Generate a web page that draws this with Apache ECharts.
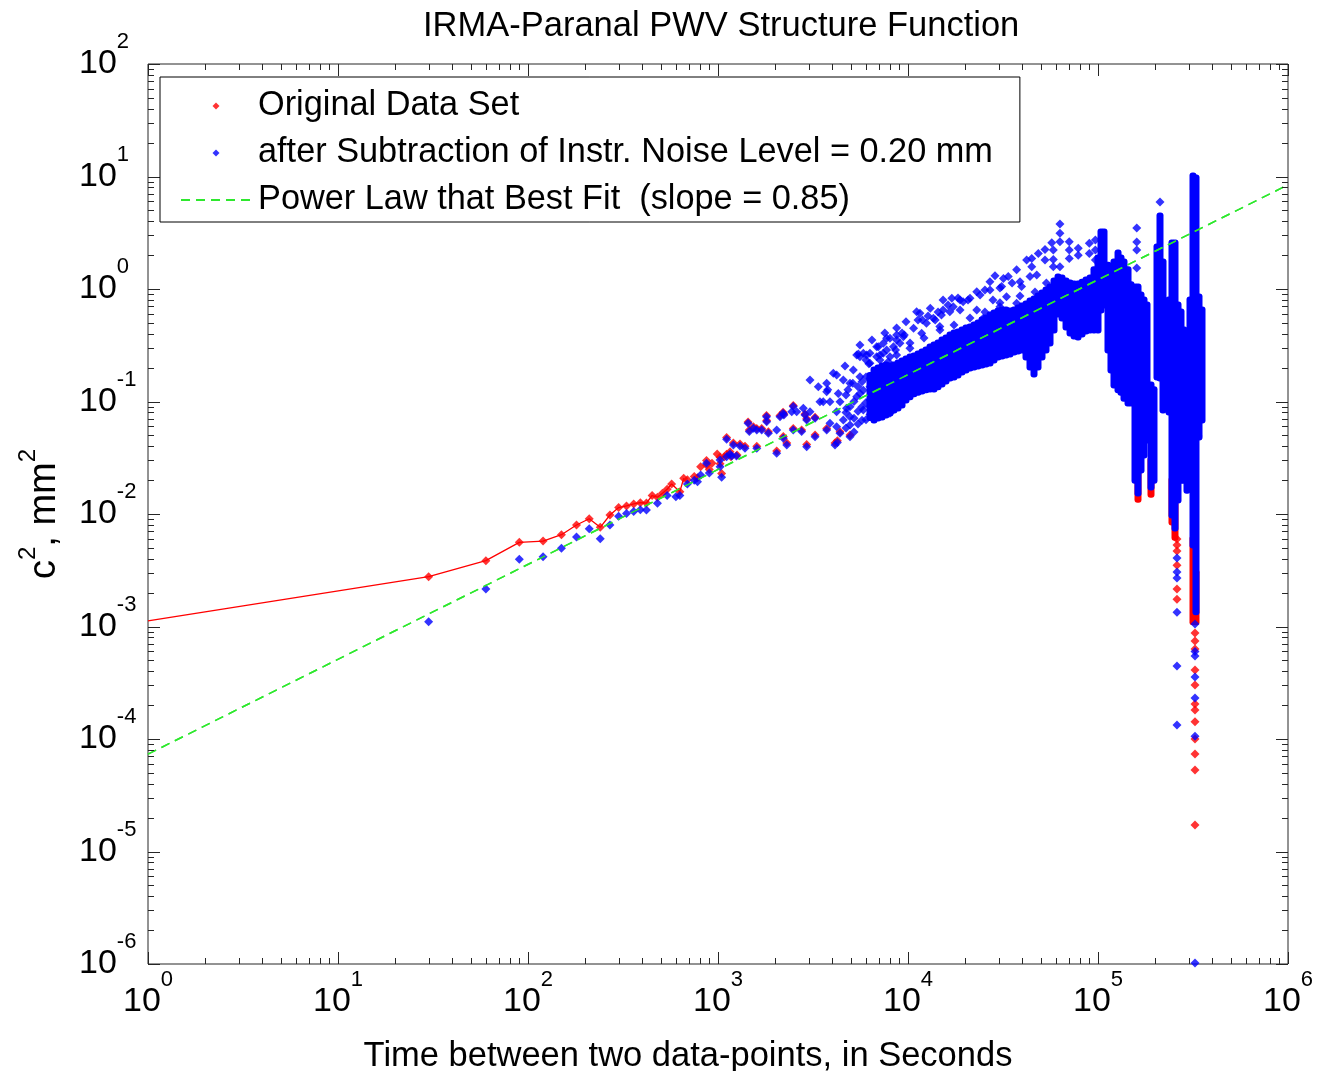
<!DOCTYPE html>
<html><head><meta charset="utf-8">
<script src="https://cdn.jsdelivr.net/npm/echarts@6/dist/echarts.min.js"></script>
<style>html,body{margin:0;padding:0;background:#fff}#c{width:1332px;height:1071px}</style>
</head><body><div id="c"></div>
<script>
// ---------------- data (lag in seconds, structure function in mm^2) ----------------
const titleText = 'IRMA-Paranal PWV Structure Function';
const nameOriginal = 'Original Data Set';
const nameCorrected = 'after Subtraction of Instr. Noise Level = 0.20 mm';
const nameFit = 'Power Law that Best Fit  (slope = 0.85)';

const xMajorTicks = [1, 10, 100, 1000, 10000, 100000, 1000000];
const yMajorTicks = [1e-6, 1e-5, 1e-4, 1e-3, 1e-2, 1e-1, 1, 10, 100];
const minorSteps = [2, 3, 4, 5, 6, 7, 8, 9];

// red: original data, start of the connecting line
const originalLineStart = [[1, 0.00112]];
const originalEarly = [[30,0.00277],[60,0.00385],[90,0.0056],[120,0.00575],[150,0.00655],[180,0.00798],[210,0.00908],[240,0.00762],[270,0.0098],[300,0.0114],[330,0.0118],[360,0.0123],[390,0.0126],[420,0.0125],[450,0.0146],[480,0.0141],[510,0.0153],[540,0.0166],[570,0.0185],[630,0.0158],[660,0.0208]];
const originalMid = [[690,0.0202],[750,0.0215],[780,0.021],[810,0.0263],[870,0.0273],[870,0.0299],[900,0.0249],[930,0.0282],[990,0.0341],[1025,0.028],[1025,0.0319],[1045,0.0229],[1080,0.0323],[1110,0.034],[1110,0.0478],[1157,0.0358],[1170,0.0323],[1205,0.0427],[1260,0.0334],[1306,0.0419],[1387,0.0401],[1440,0.0657],[1462,0.0557],[1535,0.0595],[1600,0.0401],[1600,0.0575],[1698,0.0575],[1800,0.075],[1804,0.0678],[1841,0.0538],[2037,0.0364],[2120,0.075],[2200,0.0802],[2207,0.0488],[2222,0.0776],[2300,0.0427],[2490,0.0575],[2490,0.0921],[2755,0.0557],[2870,0.0776],[2930,0.0414],[2930,0.0702],[3243,0.0503],[3243,0.0726],[3733,0.0575],[4130,0.0427],[4250,0.0448],[4385,0.0538],[4950,0.0503]];
const originalDeep = [[260400,0.006],[260400,0.0053],[260400,0.00469],[260400,0.0035],[260400,0.00215],[260400,0.00175],[324000,0.000875],[324000,0.000743],[324000,0.000631],[324000,0.00041],[324000,0.000302],[324000,0.000205],[324000,0.000181],[324000,0.000142],[324000,0.0001],[324000,0.0000736],[324000,0.000053],[324000,0.0000172]];
// red dense streaks: [lag, lowest value, highest value]
const originalStreaks = [[162380,0.0135,0.03],[190110,0.015,0.03],[245160,0.0085,0.02],[254250,0.0062,0.012],[316230,0.0011,0.006],[327930,0.0011,0.003]];

// blue: after noise subtraction
const correctedEarly = [[30,0.0011],[60,0.00215],[90,0.00396],[120,0.00417],[150,0.00496],[180,0.00625],[210,0.0074],[240,0.00603],[270,0.00798],[300,0.00955],[330,0.0101],[360,0.0105],[390,0.0109],[420,0.01085],[480,0.01245],[540,0.0146],[600,0.01425],[630,0.0146],[690,0.0185],[750,0.02],[780,0.0193],[810,0.0222],[870,0.0282],[900,0.0232],[1025,0.0263],[1025,0.0302],[1045,0.0212],[1110,0.0323],[1157,0.0341],[1180,0.0327],[1250,0.0327]];
const correctedMid = [[1110,0.0461],[1205,0.041],[1306,0.0402],[1387,0.0384],[1440,0.064],[1600,0.0384],[1600,0.0558],[1800,0.0733],[2037,0.0347],[1462,0.054],[1535,0.0578],[1698,0.0558],[1804,0.0661],[1841,0.0521],[2037,0.0558],[2200,0.0785],[2207,0.0471],[2300,0.041],[2120,0.0733],[2222,0.0759],[2444,0.0812],[2490,0.0904],[2595,0.0812],[2812,0.087],[2870,0.0759],[3049,0.0812],[3243,0.0709],[2930,0.0685],[2490,0.0558],[2755,0.054],[3243,0.0486],[2930,0.0397],[3440,0.0995],[3780,0.127],[4130,0.041],[4250,0.0431],[3049,0.155],[3373,0.135],[3733,0.145],[3733,0.122],[4045,0.178],[4215,0.172],[4296,0.118],[4385,0.0995],[3884,0.0995],[3581,0.0995],[4567,0.155],[4830,0.127],[4950,0.145],[5125,0.145],[5155,0.191],[5587,0.166],[5587,0.118],[5587,0.25],[6056,0.259],[6225,0.217],[6307,0.219],[6307,0.103],[6843,0.307],[6843,0.25],[7413,0.329],[7413,0.09],[7720,0.287],[8035,0.365],[8035,0.15],[8715,0.39],[7119,0.234],[7870,0.226],[8715,0.259],[9070,0.166],[9560,0.39],[10700,0.172],[4750,0.087],[4210,0.0812],[4567,0.0685],[4210,0.0597],[4950,0.0733],[4950,0.0486],[4385,0.0521],[3733,0.0558],[3884,0.064],[5820,0.084],[5370,0.11],[5820,0.126],[6307,0.135],[6843,0.11],[7413,0.103],[8035,0.0785],[7119,0.0785],[6307,0.09],[8715,0.11],[9070,0.155],[9460,0.191],[8380,0.178],[7413,0.135],[4660,0.207],[5480,0.264],[4718,0.114],[4718,0.08],[4718,0.0581],[4950,0.09],[4950,0.0618],[5196,0.1],[5196,0.071],[5196,0.0536],[5455,0.135],[5455,0.0818],[5455,0.063],[5727,0.09],[5727,0.0681],[5727,0.15],[6010,0.165],[6010,0.0981],[6010,0.0688],[6310,0.0766],[6310,0.16]];
const correctedUpper = [[63070,3.78],[63070,3.13],[63070,2.63],[57100,2.58],[58200,2.22],[52600,2.25],[70600,2.63],[70600,2.22],[70600,1.87],[78700,2.3],[78700,2.0],[90000,2.55],[90000,2.07],[48500,2.07],[44800,1.87],[42100,1.81],[58200,1.83],[52600,1.81],[63070,1.58],[58200,1.58],[44800,1.58],[37300,1.48],[33700,1.29],[31800,1.24],[28700,1.31],[27000,1.16],[31100,1.05],[25400,0.98],[23000,0.946],[21200,0.826],[19500,0.771],[17000,0.826],[15300,0.798],[17300,0.697],[18800,0.65],[16600,0.628],[15000,0.587],[13100,0.673],[11560,0.608],[13900,0.53],[12500,0.496],[14700,0.463],[10700,0.448],[11800,0.404],[9450,0.377],[8715,0.352],[7720,0.365],[6980,0.307],[8380,0.307],[7410,0.268],[6307,0.268],[5820,0.268],[5370,0.259],[8035,0.25],[9070,0.329],[10240,0.297],[11100,0.25],[23000,0.65],[24900,0.55],[33000,0.855],[37300,0.746],[38850,1.16],[43850,1.29],[47600,1.33],[11900,0.53],[13600,0.55],[11100,0.628],[15300,0.65],[12500,0.211],[14000,0.234],[15900,0.287],[18800,0.798],[28000,0.798],[30480,0.697],[39600,1.05],[47600,0.798],[53500,1.13],
  [5587,0.318],[6460,0.352],[7550,0.406],[8715,0.45],[9760,0.511],[11290,0.53],[12750,0.575],[14390,0.625],[16250,0.721],[18330,0.832],[20700,0.798],[23950,0.884],[27020,0.98],[30480,1.02],[35300,1.13],[6010,0.234],[7120,0.259],[8600,0.287],[10245,0.331],[12140,0.367],[14730,0.432],[17460,0.479],[21200,0.552],[25400,0.625],[30480,0.754],[38850,0.867],[46600,0.94],[9300,0.406]];
const correctedSpikeDots = [[159900,3.48],[159900,2.62],[159900,2.22],[159900,1.54],[211970,5.93],[96900,2.73],[96900,2.22],[96900,1.81],[336000,0.0494],[260400,0.00407],[260400,0.00305],[260400,0.0027],[260400,0.00134],[260400,0.000446],[260400,0.000133],[324000,0.00105],[324000,0.0006],[324000,0.000547],[324000,0.000356],[324000,0.000231],[324000,0.000106],[324000,0.00000102]];
// blue dense band / streaks: [lag, lowest value, highest value]
const correctedStreaks = [[6310,0.072,0.17],[6625,0.0685,0.191],[6953,0.0713,0.199],[7300,0.0728,0.207],[7661,0.0759,0.211],[8043,0.079,0.207],[8441,0.084,0.211],[8860,0.0876,0.22],[9299,0.0931,0.229],[9761,0.103,0.239],[10245,0.11,0.249],[10755,0.117,0.254],[11287,0.121,0.264],[11850,0.124,0.275],[12437,0.127,0.287],[13056,0.129,0.305],[13703,0.129,0.318],[14385,0.135,0.331],[15098,0.143,0.352],[15849,0.152,0.367],[16637,0.162,0.39],[17462,0.165,0.406],[18331,0.172,0.415],[19240,0.183,0.432],[20199,0.191,0.45],[21200,0.199,0.46],[22255,0.203,0.479],[23359,0.207,0.499],[24522,0.211,0.53],[25738,0.215,0.552],[27020,0.22,0.587],[28360,0.234,0.612],[29772,0.249,0.638],[31249,0.254,0.651],[32805,0.259,0.651],[34432,0.264,0.638],[36146,0.275,0.651],[37937,0.281,0.678],[39811,0.287,0.706],[41793,0.249,0.736],[43865,0.203,0.782],[46048,0.176,0.815],[48329,0.203,0.867],[50736,0.249,0.921],[53251,0.287,0.98],[55902,0.331,1.04],[58677,0.432,1.18],[61603,0.6,1.28],[64656,0.552,1.25],[67877,0.46,1.18],[71245,0.406,1.13],[74795,0.382,1.11],[78506,0.374,1.11],[82415,0.398,1.15],[86497,0.423,1.2],[90803,0.432,1.25],[95262,0.432,1.48],[100000,0.432,1.89],[103700,0.651,3.21],[107550,0.721,3.21],[112870,0.287,1.63],[117040,0.191,1.54],[121400,0.14,1.74],[127480,0.127,2.09],[132170,0.121,1.89],[137070,0.107,1.74],[143880,0.097,1.48],[149170,0.097,1.09],[156580,0.02,1.04],[162380,0.0154,1.04],[168380,0.0246,0.884],[174620,0.0334,0.798],[181090,0.0455,0.721],[190110,0.0174,0.14],[197110,0.02,0.127],[204420,0.165,2.36],[211970,0.162,4.46],[219830,0.084,1.74],[227970,0.097,0.612],[236420,0.0807,0.798],[245160,0.0098,2.56],[254250,0.0075,2.56],[263670,0.0133,0.721],[273410,0.02,0.625],[283530,0.02,0.432],[294030,0.0163,0.191],[304930,0.0246,0.798],[316230,0.0053,10.1],[327930,0.00135,9.7],[340070,0.0483,0.849],[352680,0.0685,0.651]];

// best-fit power law, end points at the plot edges
const fitLine = [[1, 0.0000733], [1000000, 8.43]];

// ---------------- styling ----------------
const FONT = '"Liberation Sans", Arial, Helvetica, sans-serif';
const AXIS_COLOR = '#262626';
const RED = '#ff0000', BLUE = '#0000ff', GREEN = '#2ee82e';
const X_MIN = 1, X_MAX = 1e6, Y_MIN = 1e-6, Y_MAX = 100;
const DIAMOND = 'path://M5,0L10,5L5,10L0,5Z';

function tickList(majors) {
  const out = [];
  majors.forEach((m, i) => {
    out.push(m);
    if (i < majors.length - 1) minorSteps.forEach(s => out.push(m * s));
  });
  return out;
}
const xTicksAll = tickList(xMajorTicks);
const yTicksAll = tickList(yMajorTicks);
function isMajor(v) { const l = Math.log10(v); return Math.abs(l - Math.round(l)) < 1e-9; }

function powLabel(v) {
  const e = Math.round(Math.log10(v));
  return '{b|10}{e|' + e + '}';
}
const labelRich = {
  b: { fontSize: 34, fontFamily: FONT, color: '#000', lineHeight: 66, padding: [16, 0, 16, 0] },
  e: { fontSize: 22, fontFamily: FONT, color: '#000', lineHeight: 22, verticalAlign: 'top' }
};

function streakItem(color) {
  return function (params, api) {
    const x = api.value(0), lo = api.value(1), hi = api.value(2);
    const a = api.coord([x, hi]);
    const b = api.coord([x, lo]);
    return {
      type: 'rect',
      shape: { x: a[0] - 3.5, y: a[1] - 3.5, width: 7, height: b[1] - a[1] + 7, r: 3 },
      style: { fill: color }
    };
  };
}

function renderXTick(params, api) {
  const v = api.value(0);
  const len = isMajor(v) ? 12 : 6;
  const pb = api.coord([v, Y_MIN]);
  const pt = api.coord([v, Y_MAX]);
  const x = Math.round(pb[0]) + 0.5;
  return { type: 'group', children: [
    { type: 'line', shape: { x1: x, y1: pb[1], x2: x, y2: pb[1] - len }, style: { stroke: AXIS_COLOR, lineWidth: 1 } },
    { type: 'line', shape: { x1: x, y1: pt[1], x2: x, y2: pt[1] + len }, style: { stroke: AXIS_COLOR, lineWidth: 1 } }
  ]};
}
function renderYTick(params, api) {
  const v = api.value(1);
  const len = isMajor(v) ? 12 : 6;
  const pl = api.coord([X_MIN, v]);
  const pr = api.coord([X_MAX, v]);
  const y = Math.round(pl[1]) + 0.5;
  return { type: 'group', children: [
    { type: 'line', shape: { x1: pl[0], y1: y, x2: pl[0] + len, y2: y }, style: { stroke: AXIS_COLOR, lineWidth: 1 } },
    { type: 'line', shape: { x1: pr[0], y1: y, x2: pr[0] - len, y2: y }, style: { stroke: AXIS_COLOR, lineWidth: 1 } }
  ]};
}

const chart = echarts.init(document.getElementById('c'), null, { renderer: 'canvas' });
chart.setOption({
  animation: false,
  backgroundColor: '#fff',
  title: {
    text: titleText, left: 418, top: 4,
    textStyle: { fontSize: 34.5, fontWeight: 'normal', fontFamily: FONT, color: '#000' }
  },
  legend: {
    data: [
      { name: nameOriginal, icon: DIAMOND },
      { name: nameCorrected, icon: DIAMOND },
      { name: nameFit, itemStyle: { opacity: 0, color: 'rgba(0,0,0,0)', borderWidth: 0 } }
    ],
    orient: 'vertical', left: 160, top: 77,
    padding: [12, 27, 5, 20], itemGap: 13, itemWidth: 70, itemHeight: 7, symbolKeepAspect: true,
    backgroundColor: '#fff', borderColor: '#000', borderWidth: 1,
    textStyle: { fontSize: 34.3, fontFamily: FONT, color: '#000', lineHeight: 34, padding: [0, 0, 0, 2] },
    selectedMode: false, z: 20
  },
  grid: { left: 148, right: 44, top: 64, bottom: 107, containLabel: false, outerBoundsMode: 'none',
    show: true, borderColor: AXIS_COLOR, borderWidth: 1, backgroundColor: '#fff' },
  xAxis: {
    type: 'log', logBase: 10, min: X_MIN, max: X_MAX, splitNumber: 6,
    name: 'Time between two data-points, in Seconds', nameLocation: 'middle', nameGap: 75, nameMoveOverlap: false,
    nameTextStyle: { fontSize: 34.5, fontFamily: FONT, color: '#000', padding: [0, 60, 0, 0] },
    axisLine: { show: false }, axisTick: { show: false }, splitLine: { show: false },
    axisLabel: { formatter: powLabel, rich: labelRich, margin: 5, showMinLabel: true, showMaxLabel: true, hideOverlap: false }
  },
  yAxis: {
    type: 'log', logBase: 10, min: Y_MIN, max: Y_MAX, splitNumber: 8,
    name: '{n|c}{s|2}{n|, mm}{s|2}', nameLocation: 'middle', nameGap: 84, nameRotate: 90,
    nameTextStyle: { rich: {
      n: { fontSize: 38, fontFamily: FONT, color: '#000', lineHeight: 48, padding: [10, 0, 0, 0] },
      s: { fontSize: 24, fontFamily: FONT, color: '#000', lineHeight: 24, verticalAlign: 'top' }
    }},
    axisLine: { show: false }, axisTick: { show: false }, splitLine: { show: false },
    axisLabel: { formatter: powLabel, rich: labelRich, margin: 69, align: 'left', showMinLabel: true, showMaxLabel: true, hideOverlap: false }
  },
  series: [
    { name: nameOriginal, type: 'scatter', data: originalEarly.concat(originalMid, originalDeep),
      symbol: 'diamond', symbolSize: 9, itemStyle: { color: RED }, clip: false, silent: true, z: 2 },
    { name: nameCorrected, type: 'scatter', data: correctedEarly.concat(correctedMid, correctedUpper, correctedSpikeDots),
      symbol: 'diamond', symbolSize: 9, itemStyle: { color: BLUE }, clip: false, silent: true, z: 2 },
    { name: nameFit, type: 'line', data: fitLine, symbol: 'none', showSymbol: false,
      itemStyle: { color: GREEN }, lineStyle: { color: GREEN, width: 1.5, type: [9, 6] }, silent: true, z: 2 },
    { name: 'originalLine', type: 'line', data: originalLineStart.concat(originalEarly), symbol: 'none', showSymbol: false,
      lineStyle: { color: RED, width: 1.3 }, itemStyle: { color: RED }, silent: true, z: 1 },
    { name: nameOriginal, type: 'custom', data: originalStreaks, dimensions: ['lag', 'low', 'high'],
      encode: { x: 0, y: [1, 2] }, renderItem: streakItem(RED), itemStyle: { color: RED }, silent: true, z: 1 },
    { name: nameCorrected, type: 'custom', data: correctedStreaks, dimensions: ['lag', 'low', 'high'],
      encode: { x: 0, y: [1, 2] }, renderItem: streakItem(BLUE), itemStyle: { color: BLUE }, silent: true, z: 2 },
    { name: 'fitTop', type: 'line', data: fitLine, symbol: 'none', showSymbol: false,
      lineStyle: { color: GREEN, width: 1.5, type: [9, 6] }, silent: true, z: 3 },
    { name: 'xTicks', type: 'custom', data: xTicksAll.map(v => [v, 1]), encode: { x: 0, y: 1 },
      renderItem: renderXTick, silent: true, z: 4 },
    { name: 'yTicks', type: 'custom', data: yTicksAll.map(v => [1, v]), encode: { x: 0, y: 1 },
      renderItem: renderYTick, silent: true, z: 4 }
  ]
});
</script></body></html>
